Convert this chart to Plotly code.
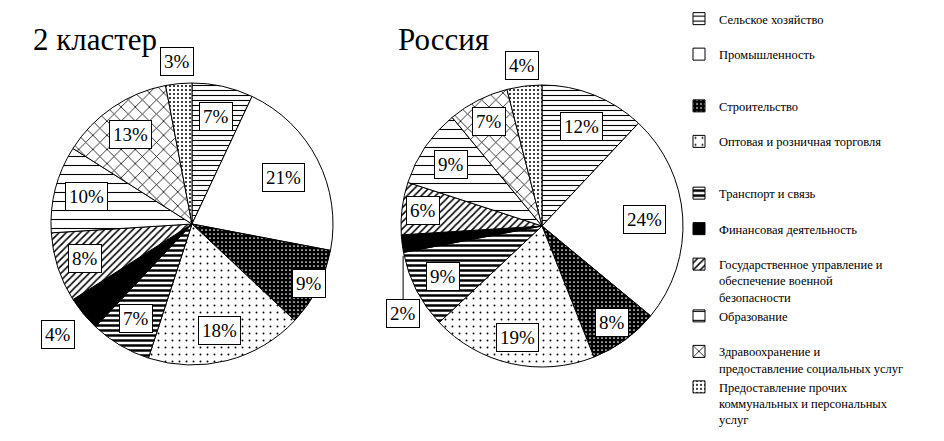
import math
import plotly.graph_objects as go

# ---------------- data ----------------
CATEGORIES = [
    "Сельское хозяйство",
    "Промышленность",
    "Строительство",
    "Оптовая и розничная торговля",
    "Транспорт и связь",
    "Финансовая деятельность",
    "Государственное управление и обеспечение военной безопасности",
    "Образование",
    "Здравоохранение и предоставление социальных услуг",
    "Предоставление прочих коммунальных и персональных услуг",
]
CLUSTER2_VALUES = [7, 21, 9, 18, 7, 4, 8, 10, 13, 3]
RUSSIA_VALUES = [12, 24, 8, 19, 9, 2, 6, 9, 7, 4]
TITLES = ["2 кластер", "Россия"]

# legend text (wrapped as in the reference, padded for spacing)
NB = "<br>\u00a0"
LEGEND_LABELS = [
    "Сельское хозяйство" + NB,
    "Промышленность" + NB * 2,
    "Строительство" + NB,
    "Оптовая и розничная торговля" + NB * 2,
    "Транспорт и связь" + NB,
    "Финансовая деятельность" + NB,
    "Государственное управление и<br>обеспечение военной<br>безопасности",
    "Образование" + NB,
    "Здравоохранение и<br>предоставление социальных услуг",
    "Предоставление прочих<br>коммунальных и персональных<br>услуг",
]

# ---------------- styling ----------------
OFF = 8                      # page body margin
W, H = 944 - OFF, 441 - OFF
FONT = "Liberation Serif, Times New Roman, serif"
R = 141
CENTERS = [(192, 224), (542, 226)]
SHAPES = ["-", "", ".", ".", "-", "", "/", "-", "x", "."]
SIZES = [5, 8, 4, 7, 5, 8, 5, 9, 10, 4]
SOLID = [0.22, 0.1, 0.15, 0.06, 0.5, 0.1, 0.3, 0.12, 0.15, 0.2]
FG = ["black", "white", "white", "black", "black", "black", "black", "black", "black", "black"]
BG = ["white", "white", "black", "white", "white", "black", "white", "white", "white", "white"]
LABEL_R = [
    [0.78, 0.73, 0.93, 0.78, 0.78, 1.23, 0.80, 0.77, 0.77, 1.16],
    [0.76, 0.73, 0.85, 0.81, 0.79, None, 0.85, 0.78, 0.83, 1.15],
]


def px2paper(x, y):
    return (x - OFF) / W, 1 - (y - OFF) / H


fig = go.Figure()
annotations = []
box = dict(font=dict(family=FONT, size=19, color="black"),
           bgcolor="white", bordercolor="black", borderwidth=1, borderpad=3)
for k, vals in enumerate([CLUSTER2_VALUES, RUSSIA_VALUES]):
    cx, cy = CENTERS[k]
    x0, y1 = px2paper(cx - R, cy - R)
    x1, y0 = px2paper(cx + R, cy + R)
    fig.add_trace(go.Pie(
        labels=LEGEND_LABELS,
        values=vals,
        sort=False,
        direction="clockwise",
        rotation=0,
        textinfo="none",
        hoverinfo="percent",
        domain=dict(x=[x0, x1], y=[y0, y1]),
        marker=dict(
            colors=BG,
            line=dict(color="black", width=1),
            pattern=dict(shape=SHAPES, size=SIZES, solidity=SOLID,
                         fgcolor=FG, bgcolor=BG, fillmode="replace"),
        ),
        showlegend=(k == 0),
    ))
    total = sum(vals)
    cum = 0
    for i, v in enumerate(vals):
        mid = (cum + v / 2) / total * 2 * math.pi
        cum += v
        txt = f"{round(v / total * 100)}%"
        f = LABEL_R[k][i]
        if f is None:
            # label with leader line pointing to the slice edge
            ex = cx + R * math.sin(mid)
            ey = cy - R * math.cos(mid)
            px_, py_ = px2paper(ex + 1, ey + 12)
            annotations.append(dict(
                x=px_, y=py_, xref="paper", yref="paper", text=txt,
                showarrow=True, ax=0, ay=58, arrowhead=0, arrowwidth=1,
                arrowcolor="black", standoff=0, **box))
            continue
        lx = cx + f * R * math.sin(mid)
        ly = cy - f * R * math.cos(mid)
        px_, py_ = px2paper(lx, ly)
        annotations.append(dict(
            x=px_, y=py_, xref="paper", yref="paper", text=txt,
            showarrow=False, xanchor="center", yanchor="middle", **box))

# titles
for k, (tx, ty) in enumerate([(31, 40), (396, 40)]):
    px_, py_ = px2paper(tx, ty)
    annotations.append(dict(
        x=px_, y=py_, xref="paper", yref="paper", text=TITLES[k],
        showarrow=False, xanchor="left", yanchor="middle",
        font=dict(family=FONT, size=31, color="black"),
    ))

lx, ly = px2paper(679, 4)
fig.update_layout(
    width=W, height=H,
    margin=dict(l=0, r=0, t=0, b=0, autoexpand=False),
    paper_bgcolor="white",
    plot_bgcolor="white",
    annotations=annotations,
    legend=dict(
        x=lx, y=ly, xanchor="left", yanchor="top",
        font=dict(family=FONT, size=12.5, color="black"),
        valign="top", traceorder="normal",
        bgcolor="rgba(0,0,0,0)",
        maxheight=1000,
    ),
)

fig.write_html("out.html")
